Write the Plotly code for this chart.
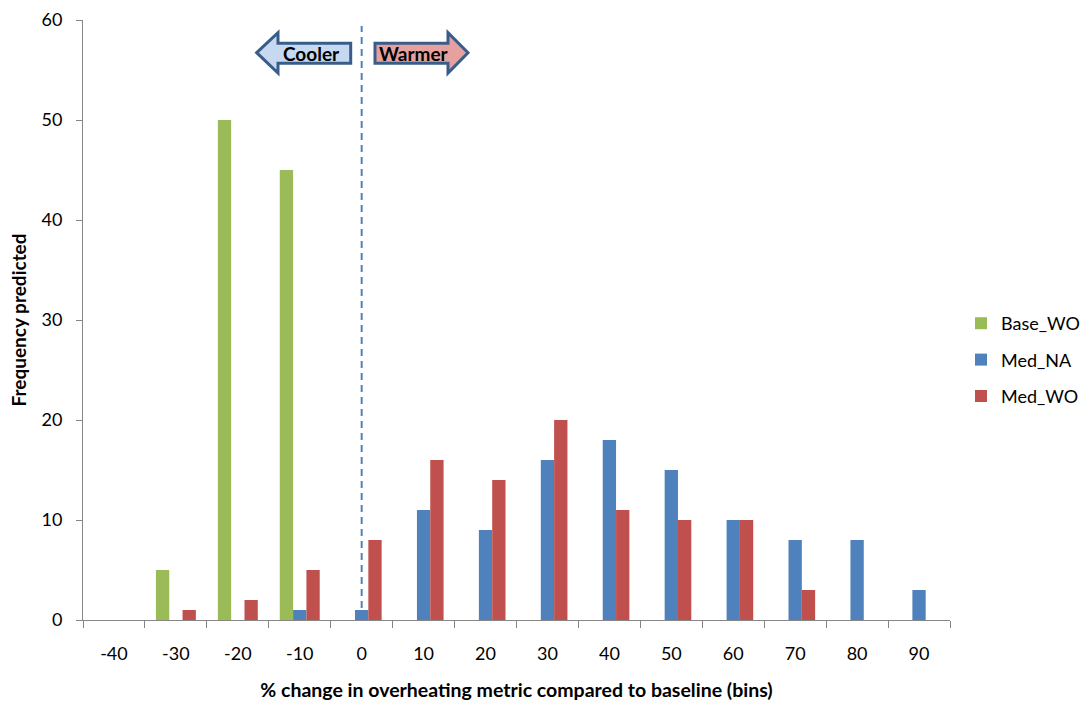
import plotly.graph_objects as go

categories = ["-40", "-30", "-20", "-10", "0", "10", "20", "30", "40", "50", "60", "70", "80", "90"]
base_wo = [0, 5, 50, 45, 0, 0, 0, 0, 0, 0, 0, 0, 0, 0]
med_na = [0, 0, 0, 1, 1, 11, 9, 16, 18, 15, 10, 8, 8, 3]
med_wo = [0, 1, 2, 5, 8, 16, 14, 20, 11, 10, 10, 3, 0, 0]

series = [
    ("Base_WO", base_wo, "#9bbb59"),
    ("Med_NA", med_na, "#4f81bd"),
    ("Med_WO", med_wo, "#c0504d"),
]

FONT = "Lato, 'Open Sans', sans-serif"

fig = go.Figure()
for name, vals, col in series:
    fig.add_trace(go.Bar(
        x=categories, y=vals, name=name, legendgroup=name,
        marker=dict(color=col, line=dict(width=0)),
    ))

L, R, T, B = 83, 950, 20, 620
W, H = R - L, B - T


def px(x):
    return (x - L) / W


def py(y):
    return (B - y) / H


def path(points):
    s = "M " + " L ".join(f"{px(a):.5f},{py(b):.5f}" for a, b in points) + " Z"
    return s


cooler = [(256.7, 52.7), (278, 32.7), (278, 43.3), (350.7, 43.3), (350.7, 63.3), (278, 63.3), (278, 73)]
warmer = [(468, 52.7), (448, 32.7), (448, 43.3), (375, 43.3), (375, 63.3), (448, 63.3), (448, 73)]

shapes = [
    dict(type="line", xref="x", yref="y", x0=4, x1=4, y0=0, y1=59.4,
         line=dict(color="#4f81bd", width=2, dash="7px,5px")),
    dict(type="path", xref="paper", yref="paper", path=path(cooler),
         fillcolor="#c6d9f1", line=dict(color="#385d8a", width=3)),
    dict(type="path", xref="paper", yref="paper", path=path(warmer),
         fillcolor="#e6a09e", line=dict(color="#385d8a", width=3)),
]

annotations = [
    dict(text="<b>Cooler</b>", xref="paper", yref="paper", x=px(311), y=py(54),
         xanchor="center", yanchor="middle",
         showarrow=False, font=dict(family=FONT, size=19, color="#000000")),
    dict(text="<b>Warmer</b>", xref="paper", yref="paper", x=px(414), y=py(54),
         xanchor="center", yanchor="middle",
         showarrow=False, font=dict(family=FONT, size=19, color="#000000")),
]

fig.update_layout(
    width=1082, height=702,
    margin=dict(l=L, r=1082 - R, t=T, b=702 - B, autoexpand=False),
    paper_bgcolor="white", plot_bgcolor="white",
    font=dict(family=FONT, size=18, color="#000000"),
    barmode="group", bargap=0.355, bargroupgap=0,
    shapes=shapes, annotations=annotations,
    legend=dict(x=px(961), y=py(360), xanchor="left", yanchor="middle",
                traceorder="grouped", tracegroupgap=10,
                font=dict(family=FONT, size=18), itemwidth=30),
    xaxis=dict(
        type="category", showline=True, linecolor="#868686", linewidth=1,
        ticks="outside", tickson="boundaries", ticklen=7, tickcolor="#868686",
        showgrid=False, tickfont=dict(size=18), ticklabelstandoff=17,
        title=dict(text="<b>% change in overheating metric compared to baseline (bins)</b>",
                   font=dict(size=19.5), standoff=20),
    ),
    yaxis=dict(
        range=[0, 60], dtick=10, showline=True, linecolor="#868686", linewidth=1,
        ticks="outside", ticklen=6, tickcolor="#868686", showgrid=False,
        zeroline=False, tickfont=dict(size=18), ticklabelstandoff=10,
        title=dict(text="<b>Frequency predicted</b>", font=dict(size=19), standoff=9),
    ),
)

fig.write_html("out.html")
